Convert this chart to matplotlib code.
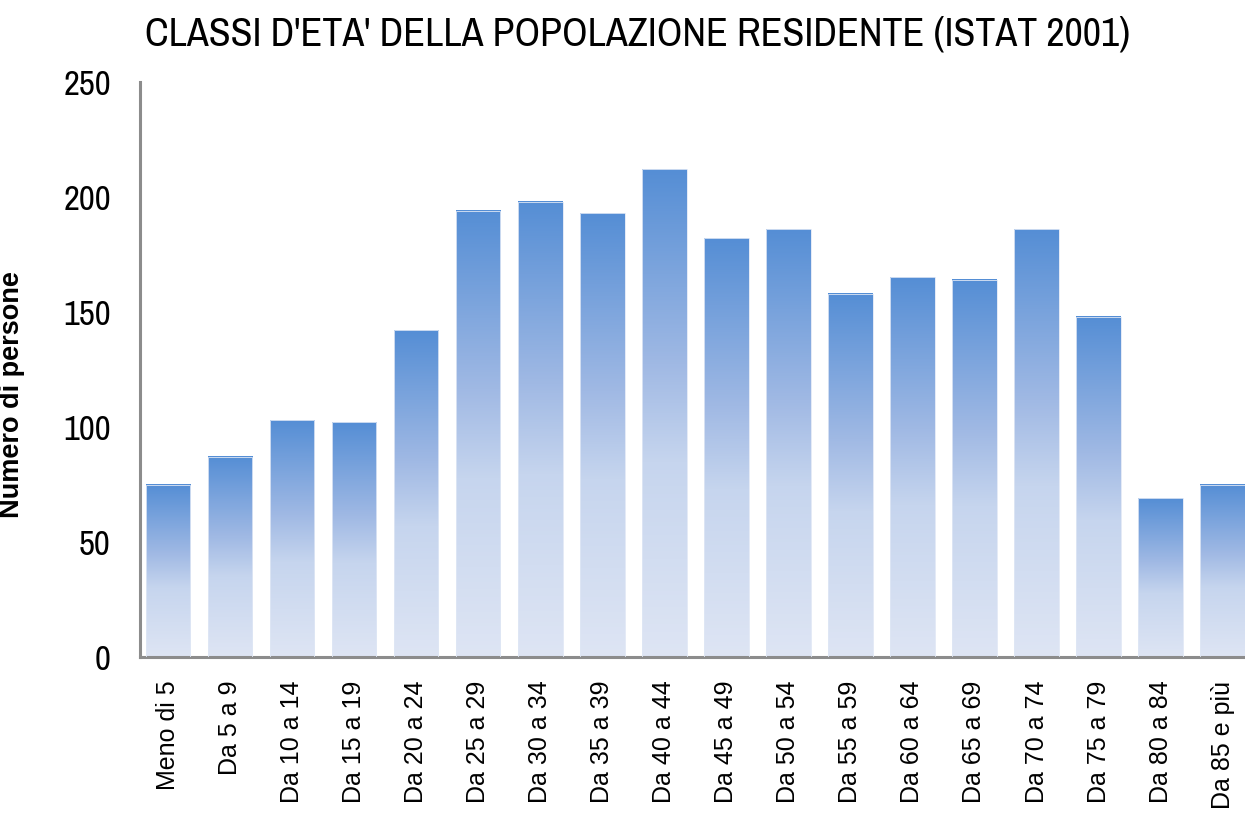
import matplotlib
matplotlib.use("Agg")
import matplotlib.pyplot as plt
import numpy as np
from matplotlib.colors import LinearSegmentedColormap

# ------------------------------------------------------------------ #
# Data (ISTAT 2001, classi d'eta')
# ------------------------------------------------------------------ #
classi = ["Meno di 5", "Da 5 a 9", "Da 10 a 14", "Da 15 a 19", "Da 20 a 24",
          "Da 25 a 29", "Da 30 a 34", "Da 35 a 39", "Da 40 a 44", "Da 45 a 49",
          "Da 50 a 54", "Da 55 a 59", "Da 60 a 64", "Da 65 a 69", "Da 70 a 74",
          "Da 75 a 79", "Da 80 a 84", "Da 85 e più"]
persone = [75, 87, 103, 102, 142, 194, 198, 193, 212, 182,
           186, 158, 165, 164, 186, 148, 69, 75]
yticks = [0, 50, 100, 150, 200, 250]

NARROW = ["Archivo Narrow", "Liberation Sans", "DejaVu Sans"]
REGULAR = ["Liberation Sans", "DejaVu Sans"]

# gradient from light (bottom) to dark blue (top)
cmap = LinearSegmentedColormap.from_list(
    "grad", [(0.0, "#dee5f4"), (0.4, "#c6d5ee"), (0.6, "#a0b9e4"), (1.0, "#558ed5")])
grad = np.linspace(0, 1, 256).reshape(-1, 1)

fig = plt.figure(figsize=(12.45, 8.13), dpi=100)
ax = fig.add_axes([140 / 1245, 1 - 657 / 813, 1 - 140 / 1245, (657 - 82) / 813])

x = np.arange(len(classi))
w = 0.72
for xi, v in zip(x, persone):
    ax.imshow(grad, cmap=cmap, origin="lower", aspect="auto",
              extent=(xi - w / 2, xi + w / 2, 0, v), zorder=2)
    ax.add_patch(plt.Rectangle((xi - w / 2, 0), w, v, fill=False,
                               edgecolor="#dfe7f5", lw=0.6, zorder=3))

ax.set_xlim(-0.45, 17.36)
ax.set_ylim(0, 250)
ax.set_yticks(yticks)
ax.set_yticklabels([str(t) for t in yticks], family=NARROW, fontsize=25)
ax.set_xticks(x)
ax.set_xticklabels(classi, rotation=90, family=REGULAR, fontsize=18, va="top")
ax.tick_params(axis="y", length=0, pad=21)
ax.tick_params(axis="x", length=0, pad=17)

for s in ("top", "right"):
    ax.spines[s].set_visible(False)
for s in ("left", "bottom"):
    ax.spines[s].set_color("#8c8c8c")
    ax.spines[s].set_linewidth(2.2)

ax.set_ylabel("Numero di persone", family=REGULAR, fontsize=19.5, fontweight="bold")
ax.yaxis.set_label_coords(-0.104, 0.456)

fig.text(0.512, 0.958, "CLASSI D'ETA' DELLA POPOLAZIONE RESIDENTE (ISTAT 2001)",
         family=NARROW, fontsize=28.8, ha="center", va="center")

fig.savefig("out.png", dpi=100)
